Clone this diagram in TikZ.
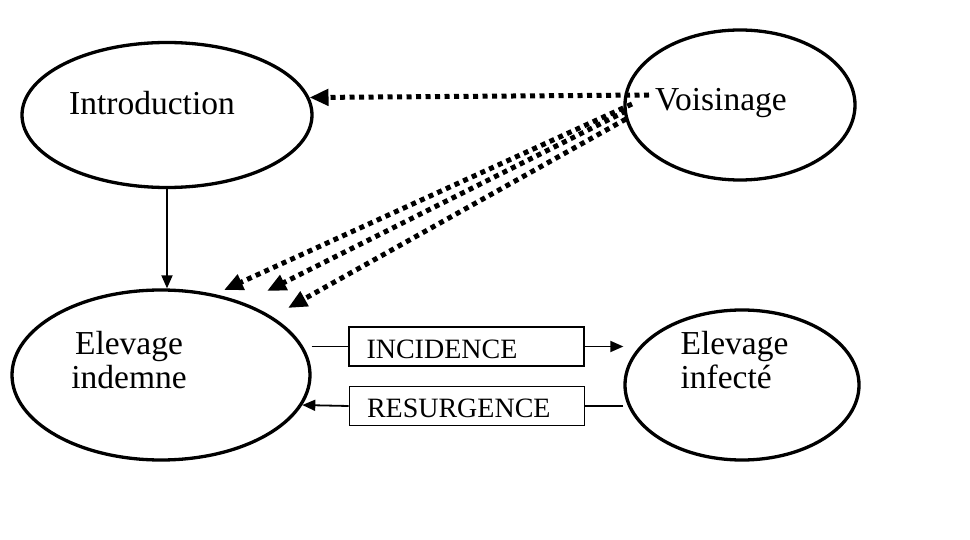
\documentclass[tikz,border=0pt]{standalone}
\usepackage{fontspec}
\setmainfont{Liberation Serif}
\usetikzlibrary{arrows.meta,shapes.geometric}

\begin{document}
\begin{tikzpicture}[x=1pt,y=-1pt,
  etat/.style={draw,ellipse,line width=3.3pt},
  lbl/.style={font=\fontsize{33.5}{34}\selectfont},
  boite/.style={draw,line width=1.6pt,text width=200pt,align=left,
    inner xsep=17.5pt,inner ysep=2pt,text height=29pt,text depth=6pt,
    font=\fontsize{28}{28}\selectfont},
  fleche/.style={line width=1.8pt,-{Triangle[length=13pt,width=11pt]}},
  pointille/.style={line width=5pt,dash pattern=on 5pt off 4.5pt,
    -{Triangle[length=19pt,width=16pt]}}]
\useasboundingbox (0,0) rectangle (970,540);
% les quatre etats
\node[etat,minimum width=290pt,minimum height=145pt] (intro) at (167,115) {};
\node[etat,minimum width=230pt,minimum height=150pt] (vois) at (740,105) {};
\node[etat,minimum width=298pt,minimum height=170pt] (ind) at (161,375) {};
\node[etat,minimum width=234pt,minimum height=150pt] (inf) at (742,385) {};
\node[lbl] (tintro) at (152,103) {Introduction};
\node[lbl] (tvois) at (721,103) {Voisinage};
\node[lbl,align=center] (tind) at (129,360) {Elevage\\indemne};
\node[lbl,align=left,anchor=west] (tinf) at (677,360) {Elevage\\infecté};
% flux entre elevages
\node[boite] (inc) at (466.5,346.5) {INCIDENCE};
\node[boite] (res) at (467,406) {RESURGENCE};
\draw[line width=1.8pt] (inc.west -| ind.east) -- (inc.west);
\draw[fleche] (inc.east) -- (inc.east -| inf.west);
\draw[line width=1.8pt] (res.east -| inf.west) -- (res.east);
\draw[fleche] (res.west) -- (ind.-12);
\draw[fleche] (intro.south) -- (intro.south |- ind.north);
% influence du voisinage
\coordinate (v0) at (649,95);
\coordinate (v1) at (632,104);
\coordinate (v2) at (626,111);
\coordinate (v3) at (626,119);
\coordinate (d1) at (224,290);
\coordinate (d2) at (267,291);
\coordinate (d3) at (288,308);
\draw[pointille] (v0) -- (intro.7);
\draw[pointille] (v1) -- (d1);
\draw[pointille] (v2) -- (d2);
\draw[pointille] (v3) -- (d3);
\end{tikzpicture}
\end{document}
